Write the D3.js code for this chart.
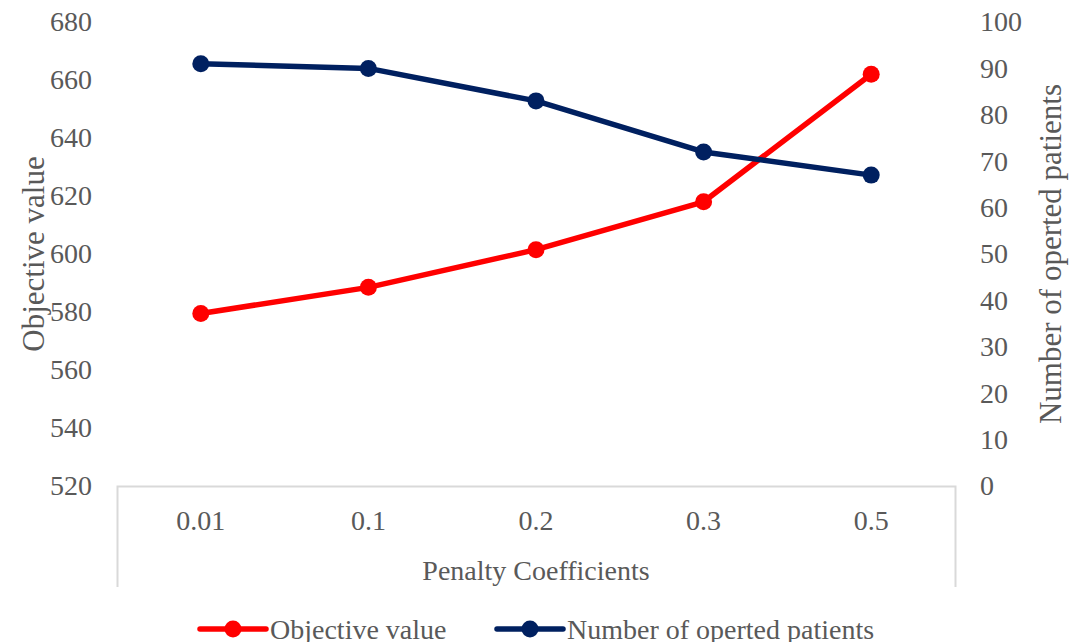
<!DOCTYPE html>
<html>
<head>
<meta charset="utf-8">
<script src="https://cdn.jsdelivr.net/npm/d3@7"></script>
<style>
  body { margin: 0; background: #fff; }
  text { font-family: "Liberation Serif", "Times New Roman", serif; fill: #595959; }
</style>
</head>
<body>
<svg id="svg-chart"></svg>
<script>
var width = 1072,
    height = 642;

// data
var coefficients = ['0.01', '0.1', '0.2', '0.3', '0.5'];
var objectiveValue = [579.5, 588.5, 601.5, 618, 662];
var operatedPatients = [91, 90, 83, 72, 67];
var leftTicks = [520, 540, 560, 580, 600, 620, 640, 660, 680];
var rightTicks = [0, 10, 20, 30, 40, 50, 60, 70, 80, 90, 100];

var plotLeft = 117, plotRight = 955, plotTop = 22, plotBottom = 486;

var svg = d3.select('#svg-chart')
  .attr('width', width)
  .attr('height', height);

var x = d3.scaleBand().domain(coefficients).range([plotLeft, plotRight]).padding(0);
var yLeft = d3.scaleLinear().domain([520, 680]).range([plotBottom, plotTop]);
var yRight = d3.scaleLinear().domain([0, 100]).range([plotBottom, plotTop]);

// bottom axis (box shape like excel)
var gx = svg.append('g')
  .attr('transform', 'translate(0,' + plotBottom + ')')
  .call(d3.axisBottom(x).tickSizeInner(0).tickSizeOuter(101).tickPadding(0));
gx.select('.domain').attr('stroke', '#d9d9d9').attr('stroke-width', 2);
gx.selectAll('.tick text')
  .attr('y', 34).attr('dy', '0.35em')
  .style('font-size', '28px')
  .style('font-family', '"Liberation Serif", serif')
  .attr('fill', '#595959');

// left axis
var gl = svg.append('g')
  .attr('transform', 'translate(' + plotLeft + ',0)')
  .call(d3.axisLeft(yLeft).tickValues(leftTicks).tickSize(0).tickPadding(25));
gl.select('.domain').remove();
gl.selectAll('.tick text')
  .style('font-size', '28px')
  .style('font-family', '"Liberation Serif", serif')
  .attr('fill', '#595959');

// right axis
var gr = svg.append('g')
  .attr('transform', 'translate(' + plotRight + ',0)')
  .call(d3.axisRight(yRight).tickValues(rightTicks).tickSize(0).tickPadding(25));
gr.select('.domain').remove();
gr.selectAll('.tick text')
  .style('font-size', '28px')
  .style('font-family', '"Liberation Serif", serif')
  .attr('fill', '#595959');

// axis titles
svg.append('text')
  .attr('transform', 'translate(33,254) rotate(-90)')
  .attr('text-anchor', 'middle')
  .attr('dy', '0.35em')
  .style('font-size', '31px')
  .text('Objective value');

svg.append('text')
  .attr('transform', 'translate(1050,254) rotate(-90)')
  .attr('text-anchor', 'middle')
  .attr('dy', '0.35em')
  .style('font-size', '31px')
  .text('Number of operted patients');

svg.append('text')
  .attr('x', 536)
  .attr('y', 570)
  .attr('text-anchor', 'middle')
  .attr('dy', '0.35em')
  .style('font-size', '28px')
  .text('Penalty Coefficients');

function cx(d, i) { return x(coefficients[i]) + x.bandwidth() / 2; }

function drawSeries(values, scale, color) {
  var line = d3.line()
    .x(function(d, i) { return cx(d, i); })
    .y(function(d) { return scale(d); });
  svg.append('path')
    .datum(values)
    .attr('d', line)
    .attr('fill', 'none')
    .attr('stroke', color)
    .attr('stroke-width', 5.5)
    .attr('stroke-linejoin', 'round')
    .attr('stroke-linecap', 'round');
  svg.append('g')
    .selectAll('circle')
    .data(values)
    .enter().append('circle')
    .attr('cx', function(d, i) { return cx(d, i); })
    .attr('cy', function(d) { return scale(d); })
    .attr('r', 8.5)
    .attr('fill', color);
}

drawSeries(objectiveValue, yLeft, '#ff0000');
drawSeries(operatedPatients, yRight, '#002060');

// legend
var legendItems = [
  { name: 'Objective value', color: '#ff0000', x: 200 },
  { name: 'Number of operted patients', color: '#002060', x: 497 }
];
var legendY = 629;
legendItems.forEach(function(item) {
  svg.append('line')
    .attr('x1', item.x).attr('x2', item.x + 66)
    .attr('y1', legendY).attr('y2', legendY)
    .attr('stroke', item.color)
    .attr('stroke-width', 5.5)
    .attr('stroke-linecap', 'round');
  svg.append('circle')
    .attr('cx', item.x + 33).attr('cy', legendY)
    .attr('r', 8.5)
    .attr('fill', item.color);
  svg.append('text')
    .attr('x', item.x + 70)
    .attr('y', legendY)
    .attr('dy', '0.35em')
    .style('font-size', '28px')
    .text(item.name);
});
</script>
</body>
</html>
